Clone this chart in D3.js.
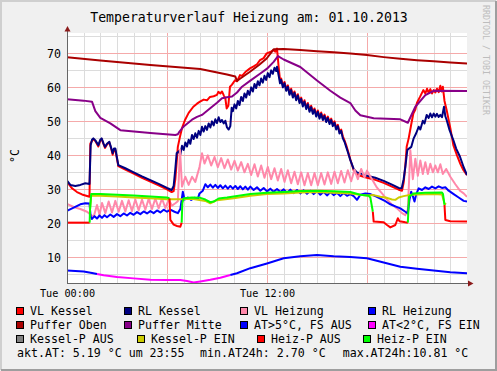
<!DOCTYPE html>
<html>
<head>
<meta charset="utf-8">
<script src="https://cdn.jsdelivr.net/npm/d3@7"></script>
<style>
  body { margin:0; background:#f0f0f0; }
  text { font-family:"DejaVu Sans Mono", monospace; }
</style>
</head>
<body>
<div id="chart"></div>
<script>
// Stunden ab Tue 00:00, Temperatur in °C
var vlKessel = [[0,32.2],[0.3,30.3],[0.6,29.2],[0.9,28.5],[1.35,27.8],[1.4,43.5],[1.5,44.2],[1.58,44.8],[1.7,44.2],[1.88,42.6],[2.0,44.4],[2.08,44.8],[2.2,43.2],[2.28,42.2],[2.4,43.2],[2.54,43.8],[2.65,42],[2.74,40.2],[2.82,41.6],[2.9,41.6],[3.08,36.8],[3.5,35.8],[4.0,34.6],[4.5,33.4],[5.0,32.3],[5.5,31.2],[6.0,30.0],[6.28,29.2],
  [6.4,29.5],[6.5,33],[6.58,38],[6.65,42.5],[6.78,45.5],[6.9,48],[7.08,50.4],[7.3,52.5],[7.58,54.3],[7.8,55.2],[7.98,55.8],[8.2,56.4],[8.4,56.2],[8.58,57.2],[8.8,57.4],[9.0,57.8],[9.08,58.7],[9.2,58.2],[9.3,58.8],[9.42,57.5],[9.5,56.8],[9.58,53.8],[9.68,54.6],[9.78,60.2],[9.9,60.8],[10.08,62.1],[10.2,61.8],[10.38,63.6],[10.5,63.4],[10.7,64.5],[10.98,65.6],[11.2,66.2],[11.4,66.8],[11.58,68],[11.8,68.6],[11.98,70],[12.2,70.4],[12.38,71],[12.5,70.5],[12.6,71.4],[12.7,66],[12.78,62.2],
  [12.85,62.6],[12.95,60.6],[13.05,61.6],[13.15,59.6],[13.25,60.6],[13.35,58.4],[13.45,59.6],[13.55,57.6],[13.65,58.8],[13.75,56.8],[13.85,58.0],[13.95,56.0],[14.05,57.0],[14.15,55.0],[14.25,56.2],[14.35,54.2],[14.45,55.4],[14.55,53.4],[14.65,54.6],[14.75,52.8],[14.85,53.8],[14.95,52.0],[15.05,53.2],[15.15,51.4],[15.25,52.6],[15.35,51.0],[15.45,52.0],[15.55,50.4],[15.65,51.4],[15.75,49.8],[15.85,50.8],[15.95,49.2],[16.05,50.0],[16.15,48.2],[16.25,49.0],[16.35,47.0],[16.45,47.6],[16.55,45.6],[16.65,44.4],[16.75,43.0],[16.85,41.4],[17.0,38.8],[17.2,35.6],[17.4,34.4],[17.6,34.0],[18.0,33.4],[18.5,32.8],[19.0,31.9],[19.5,30.8],[19.9,29.9],[20.1,29.6],
  [20.2,32],[20.3,37],[20.38,42.5],[20.5,45],[20.65,49],[20.78,52.3],[20.9,53.5],[21.0,55.5],[21.18,57.2],[21.38,59.2],[21.5,58.2],[21.6,59.6],[21.7,58.4],[21.8,59.5],[21.9,58.2],[22.0,59.2],[22.1,58.5],[22.2,59.6],[22.3,58.6],[22.4,60.5],[22.48,58.8],[22.55,60.2],[22.65,56],[22.78,53.3],[23.0,48],[23.18,43],[23.4,40],[23.6,37.5],[23.78,35.7],[24,34.2]];

var rlKessel = [[0,32.6],[0.2,31.3],[0.5,31],[0.8,31.3],[1.1,31.8],[1.35,31.6],[1.42,43],[1.5,44.6],[1.58,45.0],[1.7,44.4],[1.88,43.0],[2.0,44.6],[2.08,45.0],[2.2,43.4],[2.28,42.5],[2.4,43.4],[2.54,44.0],[2.65,42.2],[2.74,40.6],[2.82,42.0],[2.9,42.0],[3.08,37.1],[3.5,36.2],[4.0,35.0],[4.5,33.8],[5.0,32.7],[5.5,31.6],[6.0,30.4],[6.28,29.8],
  [6.4,31],[6.5,36],[6.58,40.6],[6.7,41.2],[6.8,40.2],[6.9,42.8],[7.0,41.6],[7.1,43.8],[7.2,42.6],[7.3,44.6],[7.4,43.4],[7.5,46.0],[7.6,44.8],[7.7,46.5],[7.8,45.2],[7.9,47.2],[8.0,46.0],[8.1,48.4],[8.2,47.0],[8.3,48.6],[8.4,47.5],[8.5,49.4],[8.6,48.2],[8.7,50.0],[8.8,48.8],[8.9,50.6],[9.0,49.5],[9.1,51.2],[9.2,49.8],[9.3,50.4],[9.4,49.4],[9.5,50.2],[9.6,48.2],[9.7,47.6],[9.8,48.6],[9.88,54.0],[9.95,53.0],[10.05,55.0],[10.15,53.8],[10.25,56.0],[10.35,54.8],[10.45,57.2],[10.55,56.0],[10.65,58.2],[10.75,57.0],[10.85,59.0],[10.95,57.8],[11.05,60.0],[11.15,58.8],[11.25,61.0],[11.35,59.8],[11.45,61.8],[11.55,60.6],[11.65,62.6],[11.75,61.4],[11.85,63.4],[11.95,62.2],[12.05,64.2],[12.15,63.0],[12.25,65.0],[12.35,64.0],[12.45,65.8],[12.55,64.8],[12.6,66.1],[12.7,63.5],[12.78,61.2],
  [12.85,62.2],[12.95,60.0],[13.05,61.2],[13.15,59.0],[13.25,60.2],[13.35,57.8],[13.45,59.2],[13.55,57.0],[13.65,58.4],[13.75,56.2],[13.85,57.6],[13.95,55.4],[14.05,56.6],[14.15,54.4],[14.25,55.8],[14.35,53.6],[14.45,55.0],[14.55,52.8],[14.65,54.2],[14.75,52.2],[14.85,53.4],[14.95,51.4],[15.05,52.8],[15.15,50.8],[15.25,52.2],[15.35,50.4],[15.45,51.6],[15.55,49.8],[15.65,51.0],[15.75,49.2],[15.85,50.4],[15.95,48.6],[16.05,49.6],[16.15,47.6],[16.25,48.6],[16.35,46.4],[16.45,47.2],[16.55,45.0],[16.65,44.0],[16.75,42.5],[16.85,41.0],[17.0,38.6],[17.2,36.0],[17.4,35.0],[17.6,34.7],[18.0,34.0],[18.5,33.4],[19.0,32.5],[19.5,31.4],[19.9,30.4],[20.08,30.3],
  [20.2,33],[20.3,36.6],[20.42,41.6],[20.66,42.5],[20.8,45],[20.95,46.5],[21.1,48.4],[21.2,47.6],[21.35,50.2],[21.45,49.4],[21.58,51.9],[21.7,51],[21.8,52.3],[21.9,51.2],[22.0,52.3],[22.1,51.4],[22.2,52.2],[22.3,51.3],[22.4,51.9],[22.5,51.2],[22.62,54.3],[22.7,51.5],[22.78,50.4],[22.95,47.5],[23.18,44.5],[23.35,42],[23.58,39.6],[23.8,36.5],[24,34.2]];

var vlHeizung = [[0,25.7],[0.4,24.8],[0.8,24.2],[1.2,23.4],[1.35,22.8],[1.45,22.4],[1.6,21.9],[1.8,25.4],[1.95,22.5],[2.1,26],[2.3,23],[2.5,26.4],[2.7,23.2],[2.9,26.6],[3.1,23.4],[3.3,26.6],[3.5,23.5],[3.7,26.8],[3.9,23.6],[4.1,27],[4.3,23.8],[4.5,27],[4.7,24],[4.9,27.2],[5.1,24.2],[5.3,27.3],[5.5,24.4],[5.7,27.3],[5.9,24.5],[6.1,27],[6.3,25.2],[6.5,25.9],[6.65,26.5],[6.78,41.6],[6.9,30.8],[7.1,33.7],[7.3,31.3],[7.5,33.7],[7.7,32.2],[7.95,36.6],[8.1,40.6],[8.25,37.6],[8.45,40],[8.65,37],[8.85,39.5],[9.05,36.5],[9.25,39.2],[9.45,36.2],[9.65,38.8],[9.85,35.8],[10.05,38.4],[10.25,35.5],[10.45,38],[10.65,35],[10.85,37.5],[11.05,34.2],[11.25,37.4],[11.45,33.8],[11.65,37],[11.85,33.4],[12.05,36.6],[12.25,33],[12.45,36.2],[12.65,32.6],[12.85,36],[13.05,32.2],[13.25,35.6],[13.45,31.8],[13.65,35.2],[13.85,31.5],[14.05,35],[14.25,31.2],[14.45,34.8],[14.65,31.2],[14.85,34.8],[15.05,31.2],[15.25,34.8],[15.45,31.4],[15.65,35],[15.85,31.6],[16.05,35.2],[16.25,31.8],[16.45,35.4],[16.65,32],[16.85,35.6],[17.05,32.4],[17.25,35.8],[17.45,33],[17.65,36],[17.85,33.5],[18.0,35.5],[18.3,33],[18.6,30.5],[18.9,28.8],[19.2,27],[19.5,25.5],[19.8,24.4],[20.1,23],[20.3,22.4],[20.45,24],[20.6,41.5],[20.75,33],[20.9,39],[21.05,34],[21.2,38.5],[21.35,34.5],[21.5,38],[21.65,34.5],[21.8,37.5],[21.95,35],[22.1,37],[22.25,35],[22.4,37.4],[22.55,34.5],[22.75,36],[23.0,33.7],[23.3,31.5],[23.6,29.5],[23.8,28.8],[24,27.8]];

var rlHeizung = [[0,23.7],[0.4,24.6],[0.8,25.6],[1.1,25.9],[1.35,25.8],[1.42,22],[1.5,21.3],[1.65,22.1],[1.8,21.4],[1.95,22.3],[2.1,21.6],[2.25,22.4],[2.4,21.8],[2.6,22.6],[2.8,21.9],[3.0,22.7],[3.2,22.1],[3.4,22.9],[3.6,22.3],[3.8,23.1],[4.0,22.5],[4.2,23.3],[4.4,22.7],[4.6,23.5],[4.8,22.9],[5.0,23.6],[5.2,23.0],[5.4,23.8],[5.6,23.2],[5.8,24.0],[6.0,23.4],[6.2,24.0],[6.45,23.4],[6.65,23.0],[6.8,24.2],[6.95,29.3],[7.05,27.0],[7.25,27.6],[7.45,26.9],[7.65,27.5],[7.85,27.2],[7.95,28.8],[8.15,29.6],[8.3,31.5],[8.45,30.6],[8.6,31.4],[8.75,30.5],[8.9,31.3],[9.05,30.4],[9.2,31.2],[9.35,30.3],[9.5,31.1],[9.65,30.2],[9.8,31.0],[9.95,30.2],[10.1,31.0],[10.25,30.1],[10.4,30.9],[10.55,30.0],[10.7,30.8],[10.85,29.9],[11.0,30.8],[11.2,29.8],[11.4,30.6],[11.6,29.6],[11.8,30.4],[12.0,29.4],[12.2,30.2],[12.4,29.3],[12.6,30.1],[12.8,29.2],[13.0,30.0],[13.2,29.0],[13.4,29.9],[13.6,28.9],[13.8,29.8],[14.0,28.8],[14.2,29.7],[14.4,28.7],[14.6,29.6],[14.8,28.6],[15.0,29.5],[15.2,28.4],[15.4,29.3],[15.6,28.2],[15.8,29.2],[16.0,28.3],[16.2,29.0],[16.4,28.0],[16.6,28.9],[16.8,28.1],[17.0,28.6],[17.2,28.0],[17.4,26.9],[17.6,28.4],[17.9,28.8],[18.2,28.6],[18.5,28.0],[18.8,27.3],[19.1,26.5],[19.4,25.6],[19.7,25.0],[20.0,24.4],[20.3,23.4],[20.45,22.9],[20.55,27],[20.65,29.3],[20.75,28],[20.85,26.4],[20.95,28.5],[21.1,30.3],[21.3,29.8],[21.5,30.6],[21.7,30.1],[21.9,30.8],[22.1,30.3],[22.3,30.9],[22.5,30.4],[22.7,30.6],[22.9,29.6],[23.2,28.6],[23.5,27.6],[23.8,26.6],[24,26.4]];

var pufferOben = [[0,68.9],[2,67.9],[5,66.6],[8,65.4],[9.6,63.8],[10.1,63.2],[10.2,61.9],[10.4,62.6],[10.98,64.6],[11.5,66.5],[11.98,68.5],[12.4,71.2],[13,71.3],[14,71.0],[15,70.6],[16,70.3],[17,70.0],[18,69.5],[19,68.9],[20,68.4],[21,68.0],[22,67.7],[23,67.3],[24,67.0]];

var pufferMitte = [[0,56.5],[0.5,56.3],[1.0,56.1],[1.5,55.8],[1.7,53],[2.0,51],[2.6,49.4],[3.2,47.4],[5,46.6],[6.5,46],[6.65,46.2],[6.75,47],[7.0,48.5],[7.5,50.5],[7.8,51.3],[8.1,51.9],[8.5,53.5],[9.0,55.5],[9.3,56.8],[9.6,57.1],[9.9,57.3],[10.2,58.5],[10.5,60.2],[11.0,62],[11.6,64.1],[12.0,65.5],[12.4,67.5],[12.66,69.2],[13.0,68.2],[14.0,66],[15.0,62],[15.8,59],[16.4,57],[17.0,55.4],[17.3,53.2],[17.6,51.8],[18.4,50.9],[20.0,50.6],[20.45,49.6],[20.9,54.3],[21.5,57.7],[22,59],[24,58.9]];

// [Stunde, °C, FS EIN]
var aussen = [[0,6.1,0],[0.5,6.0,0],[1.0,5.8,0],[1.5,5.4,0],[1.8,5.1,0],[2.2,4.7,1],[3,4.2,1],[4,3.8,1],[5,3.4,1],[6,3.3,1],[6.8,3.3,1],[7.2,3.0,1],[7.6,2.6,1],[8.0,2.9,1],[8.6,3.4,1],[9.2,4.0,1],[9.8,4.8,1],[10.2,5.3,0],[11,6.8,0],[12,8.2,0],[13,9.7,0],[14,10.3,0],[15,10.7,0],[16,10.3,0],[17,10.1,0],[18,9.7,0],[19,8.5,0],[20,7.2,0],[21,6.6,0],[22,6.1,0],[23,5.6,0],[24,5.3,0]];

var kesselPEin = [[1.38,24],[1.45,28.1],[2,28.1],[3,27.9],[4,27.6],[5,27.4],[6,27.1],[6.9,27.1],[7.5,27.2],[8.3,26.6],[8.6,25.9],[9,26.8],[10,27.4],[11,28.1],[12,28.6],[13,28.8],[14,29.1],[15,29.2],[16,29],[17,28.8],[17.6,28.4],[18,28.2],[18.4,28.3],[18.8,27.8],[19.2,27.5],[19.5,27.0],[19.7,26.9],[19.9,27.6],[20.2,28],[20.5,28.3],[21,28.5],[22,28.6],[22.5,28.5],[22.65,25.8],[22.75,25.6]];

// [Stunde, °C, Pumpe EIN]
var heizP = [[0,20.2,0],[1.36,20.2,0],[1.38,23.9,1],[1.45,28.6,1],[2,28.6,1],[3,28.4,1],[4,28.2,1],[5,27.9,1],[6,27.6,1],[6.15,27.3,1],[6.2,21,0],[6.4,19.6,0],[6.6,19.2,0],[6.8,19.0,0],[6.88,20.2,0],[6.92,26,1],[7.0,27.4,1],[7.5,27.6,1],[8.0,27.5,1],[8.3,27.0,1],[8.6,26.2,1],[8.8,26.4,1],[9.1,27.3,1],[9.6,27.6,1],[10,27.9,1],[11,28.6,1],[12,29.0,1],[13,29.2,1],[14,29.5,1],[15,29.6,1],[16,29.4,1],[17,29.2,1],[17.6,28.4,1],[18.1,28.1,1],[18.2,27.6,1],[18.35,23.4,1],[18.4,20.5,0],[19.0,20.3,0],[19.2,19.5,0],[19.4,18.8,0],[19.7,19.5,0],[19.85,21.5,0],[19.95,20.6,0],[20.3,20.3,0],[20.45,20.2,0],[20.52,27.8,1],[20.8,28.8,1],[21.5,29.0,1],[22.5,29.1,1],[22.56,28.6,1],[22.65,25.4,1],[22.7,21,0],[23,20.6,0],[24,20.5,0]];

var legendLabels = [
  ["VL Kessel", "RL Kessel", "VL Heizung", "RL Heizung"],
  ["Puffer Oben", "Puffer Mitte", "AT>5°C, FS AUS", "AT<2°C, FS EIN"],
  ["Kessel-P AUS", "Kessel-P EIN", "Heiz-P AUS", "Heiz-P EIN"]
];
var legendColors = [
  ["#ff0000", "#000080", "#ff88aa", "#0000ff"],
  ["#aa0000", "#880088", "#0000ff", "#ff00ff"],
  ["#808080", "#cccc00", "#ff0000", "#00ff00"]
];
var infoTexts = ["akt.AT: 5.19 °C um 23:55", "min.AT24h: 2.70 °C", "max.AT24h:10.81 °C"];
var yTicks = [10, 20, 30, 40, 50, 60, 70];
var title = "Temperaturverlauf Heizung am: 01.10.2013";

var W = 497, H = 371;
var pL = 67, pR = 467, pT = 33, pB = 283;
var t0 = Date.UTC(2013, 9, 1);
function hd(h) { return new Date(t0 + h * 3600e3); }

var svg = d3.select("#chart").append("svg").attr("width", W).attr("height", H);
svg.append("rect").attr("width", W).attr("height", H).attr("fill", "#f0f0f0");
// rrdtool shade frame
svg.append("path").attr("d", "M1,370V1H496").attr("fill", "none").attr("stroke", "#cfcfcf").attr("stroke-width", 2);
svg.append("path").attr("d", "M1,370H496V1").attr("fill", "none").attr("stroke", "#9e9e9e").attr("stroke-width", 2);

var x = d3.scaleUtc().domain([hd(0), hd(24)]).range([pL, pR]);
var y = d3.scaleLinear().domain([2.44, 76]).range([pB, pT]);

svg.append("rect").attr("x", pL).attr("y", pT).attr("width", pR - pL).attr("height", pB - pT).attr("fill", "#fff");

var grid = svg.append("g").attr("shape-rendering", "crispEdges");
d3.range(1, 24).forEach(function(h) {
  var major = h % 6 == 0;
  var xx = Math.round(x(hd(h))) + 0.5;
  grid.append("line").attr("x1", xx).attr("x2", xx).attr("y1", pT).attr("y2", pB)
    .attr("stroke", major ? "#f5aaaa" : "#dcdcdc");
});
d3.range(5, 76, 5).forEach(function(v) {
  var major = v % 10 == 0;
  var yy = Math.round(y(v)) + 0.5;
  grid.append("line").attr("x1", pL).attr("x2", pR).attr("y1", yy).attr("y2", yy)
    .attr("stroke", major ? "#f5aaaa" : "#dcdcdc");
});

svg.append("text").attr("x", 249).attr("y", 21.5).attr("text-anchor", "middle")
  .attr("font-size", 13.2).attr("fill", "#000").text(title);

svg.append("text").attr("transform", "translate(18.5,156) rotate(-90)").attr("text-anchor", "middle")
  .attr("font-size", 11.6).text("°C");

svg.append("text").attr("transform", "translate(483,5) rotate(90)")
  .attr("font-size", 8.3).attr("fill", "#bdbdbd").text("RRDTOOL / TOBI OETIKER");

var yAxis = svg.append("g").attr("transform", "translate(" + pL + ",0)")
  .call(d3.axisLeft(y).tickValues(yTicks).tickSize(0).tickPadding(6));
yAxis.select(".domain").remove();
yAxis.selectAll("text").attr("font-size", 11.6).attr("font-family", "DejaVu Sans Mono").attr("fill", "#000");

var xAxis = svg.append("g").attr("transform", "translate(0," + pB + ")")
  .call(d3.axisBottom(x).tickValues([hd(0), hd(12)]).tickFormat(d3.utcFormat("%a %H:%M")).tickSize(0).tickPadding(7));
xAxis.select(".domain").remove();
xAxis.selectAll("text").attr("font-size", 10.2).attr("font-family", "DejaVu Sans Mono").attr("fill", "#000");

svg.append("clipPath").attr("id", "plot").append("rect")
  .attr("x", pL).attr("y", pT - 2).attr("width", pR - pL).attr("height", pB - pT + 2);
var g = svg.append("g").attr("clip-path", "url(#plot)");

var line = d3.line().x(function(d) { return x(hd(d[0])); }).y(function(d) { return y(d[1]); });

function drawLine(data, color) {
  g.append("path").datum(data).attr("d", line).attr("fill", "none")
    .attr("stroke", color).attr("stroke-width", 2).attr("stroke-linejoin", "round");
}
// split by state, each run joined to the previous point
function drawState(data, colors) {
  var run = [data[0]];
  for (var i = 1; i < data.length; i++) {
    if (data[i][2] != data[i - 1][2]) {
      if (run.length > 1) drawLine(run, colors[run[run.length - 1][2]]);
      run = [data[i - 1]];
    }
    run.push(data[i]);
  }
  drawLine(run, colors[run[run.length - 1][2]]);
}

drawLine(vlKessel, "#ff0000");
drawLine(rlKessel, "#000080");
drawLine(vlHeizung, "#ff88aa");
drawLine(rlHeizung, "#0000ff");
drawLine(pufferOben, "#aa0000");
drawLine(pufferMitte, "#880088");
drawState(aussen, ["#0000ff", "#ff00ff"]);
drawLine(kesselPEin, "#cccc00");
drawState(heizP, ["#ff0000", "#00ff00"]);

// axes with arrows
svg.append("line").attr("x1", pL + 0.5).attr("x2", pL + 0.5).attr("y1", pB).attr("y2", 29).attr("stroke", "#666");
svg.append("line").attr("x1", pL).attr("x2", 470).attr("y1", pB + 0.5).attr("y2", pB + 0.5).attr("stroke", "#666");
svg.append("path").attr("d", "M64.5,31.5L70.5,31.5L67.5,26Z").attr("fill", "#8b1a1a");
svg.append("path").attr("d", "M468,280.5L468,286.5L473.5,283.5Z").attr("fill", "#8b1a1a");

// legend
var boxCols = [[16, 124, 240, 368], [16, 124, 240, 368], [16, 137, 257, 363]];
var rowY = [315, 329, 343];
legendLabels.forEach(function(row, r) {
  row.forEach(function(lab, c) {
    svg.append("rect").attr("x", boxCols[r][c] + 0.5).attr("y", rowY[r] - 7.5).attr("width", 7).attr("height", 7)
      .attr("fill", legendColors[r][c]).attr("stroke", "#000").attr("stroke-width", 1);
    svg.append("text").attr("x", boxCols[r][c] + 14).attr("y", rowY[r]).attr("font-size", 11.6).text(lab);
  });
});
var infoX = [17, 200, 342.7];
infoTexts.forEach(function(t, i) {
  svg.append("text").attr("x", infoX[i]).attr("y", 356.5).attr("font-size", 11.6).text(t);
});
</script>
</body>
</html>
